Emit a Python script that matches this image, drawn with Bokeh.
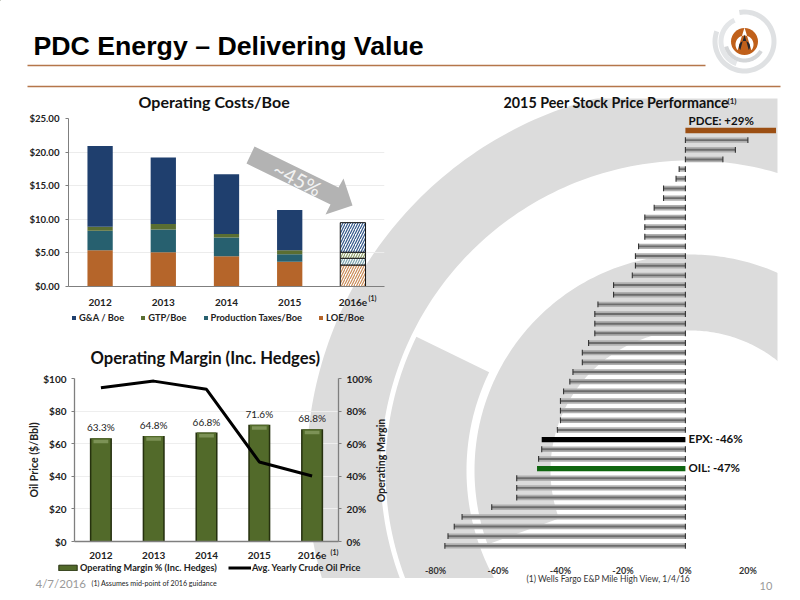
import math
import numpy as np
from bokeh.core.properties import value
from bokeh.embed import file_html
from bokeh.resources import INLINE
from bokeh.layouts import column
from bokeh.models import (ColumnDataSource, FactorRange, FixedTicker, Legend, LegendItem, LinearAxis,
                          NumeralTickFormatter, PrintfTickFormatter, Range1d)
from bokeh.plotting import figure

# ---------- data ----------
cost_years = ["2012", "2013", "2014", "2015", "2016e"]
loe = [5.4, 5.1, 4.5, 3.7, 3.2]
prod_tax = [2.9, 3.4, 2.8, 1.1, 1.0]
gtp = [0.6, 0.8, 0.5, 0.6, 0.9]
gna = [12.0, 9.9, 8.9, 6.0, 4.4]

margin_years = ["2012", "2013", "2014", "2015", "2016e"]
op_margin = [63.3, 64.8, 66.8, 71.6, 68.8]
oil_price = [94.3, 98.4, 93.4, 48.8, 40.2]

peer_perf = [29, 20, 16, 12, -2, -3, -7, -7, -10, -13, -13, -13, -15, -16, -16, -17, -23, -23, -28,
             -29, -29, -29, -31, -33, -33, -36, -37, -39, -40, -40, -40, -41, -46, -46, -47, -47.5,
             -54, -54, -54, -62, -71.5, -74, -76, -77]
highlight = {"PDCE": 0, "EPX": 32, "OIL": 35}
highlight_labels = ["PDCE: +29%", "EPX: -46%", "OIL: -47%"]
perf_ticks = [-80, -60, -40, -20, 0, 20]

FONT = "Lato"
FV = value(FONT)
ORANGE = "#b5764a"
GREY = "#dcdcdc"
AXIS = "#7f7f7f"
W, H = 792, 592
COMMON = dict(output_backend="svg", toolbar_location=None, background_fill_color=None, border_fill_color=None,
              outline_line_color=None, frame_align=False)


def ref_fig():
    """Transparent page-size figure addressed in reference pixels."""
    f = figure(width=W, height=H, x_range=Range1d(0, W), y_range=Range1d(H, 0), min_border=0, **COMMON)
    f.axis.visible = False
    f.grid.visible = False
    return f


def arc(cx, cy, r0, r1, a0, a1, n=160):
    t = np.radians(np.linspace(a0, a1, n))
    xs = np.r_[cx + r1 * np.cos(t), cx + r0 * np.cos(t[::-1])]
    ys = np.r_[cy - r1 * np.sin(t), cy - r0 * np.sin(t[::-1])]
    return xs.tolist(), ys.tolist()


# ---------- background ----------
bg = ref_fig()
for (r0, r1, a0, a1) in [(310, 384, 260, -20), (224, 305, 154, 260), (140, 216, 200, -20)]:
    xs, ys = arc(690, 470, r0, r1, a0, a1, 260)
    bg.patch(xs, ys, color=GREY, line_color=None)
bg.quad(left=[0, 777, 0], right=[W, W, W], top=[0, 0, 577.5], bottom=[98, H, H], color="white", line_color=None)
bg.segment(x0=[27, 27], x1=[705, 780], y0=[65, 86], y1=[65, 86], line_color=ORANGE, line_width=1.6)
bg.text([33], [45], ["PDC Energy – Delivering Value"], text_font=value("Liberation Sans"), text_font_style="bold",
        text_font_size="26.7px", text_color="#000000", text_baseline="middle")
bg.text([35], [583], ["4/7/2016"], text_font=FV, text_font_size="11.5px", text_color="#9a9a9a", text_baseline="middle")
bg.text([91], [583], ["(1) Assumes mid-point of 2016 guidance"], text_font=FV, text_font_size="7.1px",
        text_color="#222222", text_baseline="middle")
bg.text([526], [578], ["(1)  Wells Fargo E&P Mile High View, 1/4/16"], text_font=FV, text_font_size="8.5px",
        text_color="#333333", text_baseline="middle")
bg.text([759], [585], ["10"], text_font=FV, text_font_size="11px", text_color="#9a9a9a", text_baseline="middle")

# logo
for (r0, r1, a0, a1, col) in [(27, 32, 100, -200, "#dfe1e3"), (21, 26, 115, 250, "#e4e6e8"), (17, 21, 195, 330, "#d4d6d8")]:
    xs, ys = arc(744, 41, r0, r1, a0, a1, 80)
    bg.patch(xs, ys, color=col, line_color=None)
bg.circle([744], [41], radius=13.5, color="#c0601a", line_color=None)
t = np.radians(np.linspace(-40, 220, 40))
bg.patch(np.r_[744 + 9 * np.cos(t), 744].tolist(), np.r_[44 - 9 * np.sin(t), 27].tolist(), color="white", line_color=None)
bg.patch(np.r_[744 + 5.5 * np.cos(t), 744].tolist(), np.r_[46 - 5.5 * np.sin(t), 34].tolist(), color="#26262c", line_color=None)

# ---------- operating costs ----------
c = figure(width=380, height=255, x_range=FactorRange(*cost_years, range_padding=0), y_range=Range1d(0, 25),
           min_border_left=48, min_border_right=16, min_border_top=39, min_border_bottom=48,
           title="Operating Costs/Boe", **COMMON)
c.title.align = "left"
c.title.offset = 70
c.title.standoff = 15
c.title.text_font = FONT
c.title.text_font_size = "16px"
c.title.text_color = "#111111"
c.title.text_font_style = "bold"
src = ColumnDataSource(dict(x=cost_years, LOE=loe, Prod=prod_tax, GTP=gtp, GNA=gna))
stack = ["LOE", "Prod", "GTP", "GNA"]
colors = ["#b5652a", "#27606f", "#5a6e32", "#1f3f6e"]
hatch_colors = ["#c98a55", "#7aa3ad", "#8f9f6a", "#2f5588"]
src_a = ColumnDataSource({k: v[:4] for k, v in src.data.items()})
src_b = ColumnDataSource({k: v[4:] for k, v in src.data.items()})
rs = c.vbar_stack(stack, x="x", width=0.4, color=colors, source=src_a, line_color=None)
c.vbar_stack(stack, x="x", width=0.4, fill_color="white", line_color="#111111", line_width=1, source=src_b,
             hatch_pattern="right_diagonal_line", hatch_color=hatch_colors, hatch_scale=5, hatch_weight=1.2)
c.yaxis.ticker = FixedTicker(ticks=[0, 5, 10, 15, 20, 25])
c.yaxis.formatter = NumeralTickFormatter(format="$0.00")
c.ygrid.grid_line_color = "#ececec"
c.xgrid.visible = False
c.xaxis.minor_tick_line_color = None
c.yaxis.minor_tick_line_color = None
c.yaxis.major_tick_in = 0
c.yaxis.major_tick_out = 3
c.xaxis.major_label_standoff = 6
c.yaxis.major_label_standoff = 6
for a in (c.xaxis[0], c.yaxis[0]):
    a.axis_line_color = AXIS
    a.major_tick_line_color = AXIS if a is c.yaxis[0] else None
    a.major_label_text_font = FONT
    a.major_label_text_font_style = "bold"
    a.major_label_text_color = "#222222"
c.xaxis.major_label_text_font_size = "10px"
c.yaxis.major_label_text_font_size = "9.6px"

# ---------- operating margin ----------
m = figure(width=380, height=260, x_range=FactorRange(*margin_years, range_padding=0), y_range=Range1d(0, 100),
           min_border_left=54, min_border_right=62, min_border_top=49, min_border_bottom=48,
           title="Operating Margin (Inc. Hedges)", **COMMON)
m.title.align = "left"
m.title.offset = 16
m.title.standoff = 22
m.title.text_font = FONT
m.title.text_font_size = "16.6px"
m.title.text_color = "#111111"
m.title.text_font_style = "bold"
m.extra_y_ranges = {"margin": Range1d(0, 100)}
msrc = ColumnDataSource(dict(x=margin_years, v=op_margin, oil=oil_price,
                             hi0=[v - 3.0 for v in op_margin], hi1=[v - 0.9 for v in op_margin],
                             lab=[f"{v:.1f}%" for v in op_margin]))
m.vbar(x="x", top="v", width=0.418, color="#26310f", line_color=None, y_range_name="margin", source=msrc)
m.vbar(x="x", top="v", width=0.36, color="#526a2a", line_color=None, y_range_name="margin", source=msrc)
m.vbar(x="x", bottom="hi0", top="hi1", width=0.28, color="#7c9256", line_color=None, y_range_name="margin", source=msrc)
m.line(x="x", y="oil", line_color="#000000", line_width=3, source=msrc)
m.text(x="x", y="v", text="lab", y_range_name="margin", source=msrc, y_offset=-11, text_align="center", text_baseline="middle",
       text_font=FV, text_font_size="10px", text_color="#222222")
m.yaxis.ticker = FixedTicker(ticks=[0, 20, 40, 60, 80, 100])
m.yaxis.formatter = NumeralTickFormatter(format="$0")
m.yaxis.axis_label = "Oil Price ($/Bbl)"
r_ax = LinearAxis(y_range_name="margin", ticker=FixedTicker(ticks=[0, 20, 40, 60, 80, 100]),
                  formatter=PrintfTickFormatter(format="%d%%"))
m.add_layout(r_ax, "right")
m.ygrid.grid_line_color = "#eeeeee"
m.xgrid.visible = False
m.xaxis.major_tick_line_color = None
for a in [m.xaxis[0], m.yaxis[0], r_ax]:
    a.axis_line_color = AXIS
    a.axis_line_width = 1.3
    a.minor_tick_line_color = None
    a.major_label_text_font = FONT
    a.major_label_text_font_style = "bold"
    a.major_label_text_color = "#222222"
    a.major_label_text_font_size = "10px"
    a.axis_label_text_font = FONT
    a.axis_label_text_font_style = "bold"
    a.axis_label_text_font_size = "10.6px"
    a.axis_label_text_color = "#222222"
    a.axis_label_standoff = 0
for a in [m.yaxis[0], r_ax]:
    a.major_tick_in = 0
    a.major_tick_out = 3
    a.major_tick_line_color = AXIS
    a.major_label_standoff = 5
m.xaxis.major_label_standoff = 4

# ---------- peer performance ----------
n = len(peer_perf)
rows = list(range(n))
special = set(highlight.values())
grey_rows = [i for i in rows if i not in special]
grey_vals = [peer_perf[i] for i in grey_rows]
p = figure(width=390, height=493, x_range=Range1d(-80, 29.8), y_range=Range1d(43.79, -1.86),
           min_border_left=35, min_border_right=12, min_border_top=22, min_border_bottom=30,
           title="2015 Peer Stock Price Performance", **COMMON)
p.title.align = "left"
p.title.offset = 68
p.title.standoff = 3
p.title.text_font = FONT
p.title.text_font_size = "14.3px"
p.title.text_color = "#111111"
p.title.text_font_style = "bold"
p.hbar(y=grey_rows, right=grey_vals, left=0, height=0.56, color="#b0b0b0", line_color=None)
p.hbar(y=grey_rows, right=grey_vals, left=0, height=0.2, color="#6c6c6c", line_color=None)
p.segment(x0=grey_vals, x1=grey_vals, y0=[i - 0.3 for i in grey_rows], y1=[i + 0.3 for i in grey_rows], line_color="#333333", line_width=1.1)
p.segment(x0=[0] * len(grey_rows), x1=[0] * len(grey_rows), y0=[i - 0.3 for i in grey_rows], y1=[i + 0.3 for i in grey_rows], line_color="#333333", line_width=1.1)
hl_rows = [highlight[k] for k in ("PDCE", "EPX", "OIL")]
hl_vals = [peer_perf[i] for i in hl_rows]
p.hbar(y=hl_rows, right=hl_vals, left=0, height=0.56, color=["#9c4f13", "#000000", "#0f660f"], line_color=None)
p.text(x=[1, 1, 1], y=[hl_rows[0] - 1, hl_rows[1], hl_rows[2]], text=highlight_labels, text_font=FV, text_font_style="bold",
       text_font_size="11.5px", text_color="#111111", text_baseline="middle", y_offset=[0, -1, -1])
p.grid.visible = False
p.yaxis.visible = False
p.xaxis.ticker = FixedTicker(ticks=perf_ticks)
p.xaxis.formatter = PrintfTickFormatter(format="%d%%")
p.xaxis.axis_line_color = None
p.xaxis.major_tick_line_color = None
p.xaxis.minor_tick_line_color = None
p.xaxis.major_label_standoff = 5
p.xaxis.major_label_text_font = FONT
p.xaxis.major_label_text_font_style = "bold"
p.xaxis.major_label_text_font_size = "9px"
p.xaxis.major_label_text_color = "#333333"

# ---------- overlay ----------
top = ref_fig()
top.patch([254, 338, 343, 352, 325, 330, 246], [146, 187, 178, 205, 214, 204, 163], color="#b3b3b3", line_color=None)
top.text([297], [178], ["~45%"], angle=-0.47, text_font=FV, text_font_size="20px", text_color="#f2f2f2",
         text_align="center", text_baseline="middle")
top.text([368, 330, 727], [297, 551, 100], ["(1)", "(1)", "(1)"], text_font=FV, text_font_size=["7px", "7px", "8px"],
         text_color="#222222", text_baseline="middle", text_font_style="bold")
top.text([380], [460], ["Operating Margin"], angle=math.pi / 2, text_font=FV, text_font_style="bold", text_font_size="10.6px",
         text_color="#222222", text_align="center", text_baseline="middle")

# legends sit outside their charts' frames, so they are drawn here with off-page swatch renderers
LEG = dict(orientation="horizontal", background_fill_alpha=0, border_line_color=None, padding=0, margin=0,
           label_text_font=FONT, label_text_font_style="bold", label_text_color="#222222", label_height=10)
cost_labels = ["G&A / Boe", "GTP/Boe", "Production Taxes/Boe", "LOE/Boe"]
swatches = [top.vbar(x=[-100], top=[-100], width=1, color=col, line_color=None) for col in colors[::-1]]
top.add_layout(Legend(items=[LegendItem(label=l, renderers=[r]) for l, r in zip(cost_labels, swatches)],
                      location=(71, 269), spacing=16, glyph_width=5, glyph_height=5, label_standoff=3,
                      label_text_font_size="9.3px", **LEG), "center")
bar_sw = top.vbar(x=[-100], top=[-100], width=1, color="#526a2a", line_color="#26310f")
line_sw = top.line(x=[-100, -99], y=[-100, -100], line_color="#000000", line_width=3)
top.add_layout(Legend(items=[LegendItem(label="Operating Margin % (Inc. Hedges)", renderers=[bar_sw]),
                             LegendItem(label="Avg. Yearly Crude Oil Price", renderers=[line_sw])],
                      location=(56, 19), spacing=11, glyph_width=23, glyph_height=7, label_standoff=1,
                      label_text_font_size="9.2px", **LEG), "center")


def place(f, left, ref_top, prev_bottom):
    f.margin = (ref_top - prev_bottom, 0, 0, left)


bg.margin = (0, 0, 0, 0)
place(c, 20, 79, H)
place(m, 20, 329, 334)
place(p, 400, 90, 589)
place(top, 0, 0, 583)
page = column(bg, c, m, p, top, spacing=0)
open("out.html", "w").write(file_html(page, INLINE))
